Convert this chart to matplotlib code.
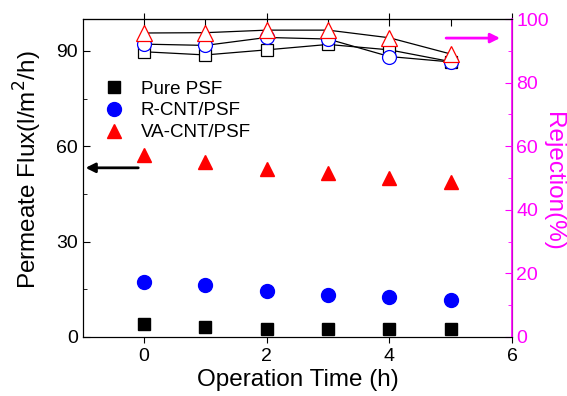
import numpy as np
import matplotlib.pyplot as plt

plt.rcParams['font.family'] = ['Liberation Sans', 'DejaVu Sans']

time = [0, 1, 2, 3, 4, 5]

# permeate flux (left axis)
flux_psf = [4.0, 3.2, 2.6, 2.4, 2.4, 2.4]
flux_rcnt = [17.4, 16.4, 14.5, 13.2, 12.6, 11.6]
flux_vacnt = [57.3, 55.1, 52.9, 51.6, 50.0, 48.8]

# rejection (right axis)
rej_psf = [89.7, 88.7, 90.3, 92.0, 90.3, 86.6]
rej_rcnt = [92.1, 91.7, 94.2, 93.7, 88.2, 86.5]
rej_vacnt = [95.6, 95.7, 96.5, 96.5, 94.1, 89.0]

labels = ['Pure PSF', 'R-CNT/PSF', 'VA-CNT/PSF']
mag = '#ff00ff'

fig = plt.figure(figsize=(5.67, 3.96), dpi=100)
ax1 = fig.add_axes([0.146, 0.149, 0.757, 0.803])
ax2 = ax1.twinx()

ax1.plot(time, flux_psf, 's', color='black', ms=8.5, ls='none', label=labels[0])
ax1.plot(time, flux_rcnt, 'o', color='blue', ms=10, ls='none', label=labels[1])
ax1.plot(time, flux_vacnt, '^', color='red', ms=10.5, ls='none', label=labels[2])

ax2.plot(time, rej_psf, 's-', color='black', lw=0.9, ms=9, mfc='white', mec='black', mew=0.9)
ax2.plot(time, rej_rcnt, 'o-', color='black', lw=0.9, ms=10, mfc='white', mec='blue', mew=0.9)
ax2.plot(time, rej_vacnt, '^-', color='black', lw=0.9, ms=11, mfc='white', mec='red', mew=0.9)

ax1.set_xlim(-1, 6)
ax1.set_ylim(0, 100)
ax2.set_ylim(0, 100)
ax1.set_xticks([0, 2, 4, 6])
ax1.set_xticks([-1, 1, 3, 5], minor=True)
ax1.set_yticks([0, 30, 60, 90])
ax1.set_yticks([15, 45, 75], minor=True)
ax2.set_yticks([0, 20, 40, 60, 80, 100])
ax2.set_yticks([10, 30, 50, 70, 90], minor=True)

ax1.tick_params(axis='x', which='both', direction='out', top=True, labelsize=14, pad=4)
ax1.tick_params(axis='x', which='major', length=4)
ax1.tick_params(axis='x', which='minor', length=0)
ax1.tick_params(axis='y', which='both', direction='in', labelsize=14)
ax1.tick_params(axis='y', which='major', length=5)
ax1.tick_params(axis='y', which='minor', length=3)
ax2.tick_params(axis='y', which='both', direction='in', colors=mag, labelsize=14, pad=3)
ax2.tick_params(axis='y', which='major', length=5)
ax2.tick_params(axis='y', which='minor', length=3)
ax2.spines['right'].set_color(mag)
ax2.spines['right'].set_linewidth(1.2)

# top ticks at every hour, pointing inward
sec = ax1.secondary_xaxis('top')
sec.set_xticks(time)
sec.tick_params(direction='in', length=5, labeltop=False)

ax1.set_xlabel('Operation Time (h)', fontsize=17.5, labelpad=3)
ax1.set_ylabel('Permeate Flux(l/m$^2$/h)', fontsize=17.5)
ax1.yaxis.set_label_coords(-0.09, 0.525)
ax2.set_ylabel('Rejection(%)', fontsize=17.5, color=mag, rotation=270,
               ha='center', va='center')
ax2.yaxis.set_label_coords((553 - 83) / 429, 0.49)

ax1.annotate('', xy=(-1, 53.2), xytext=(-0.05, 53.2),
             arrowprops=dict(arrowstyle='-|>', color='black', lw=2, mutation_scale=14))
ax2.annotate('', xy=(5.85, 94), xytext=(4.88, 94),
             arrowprops=dict(arrowstyle='-|>', color=mag, lw=2, mutation_scale=14))

ax1.legend(loc='upper left', bbox_to_anchor=(0.0, 0.86), frameon=False,
           fontsize=13.5, handletextpad=0.7, labelspacing=0.25, handlelength=1.5)

fig.savefig('out.png')
